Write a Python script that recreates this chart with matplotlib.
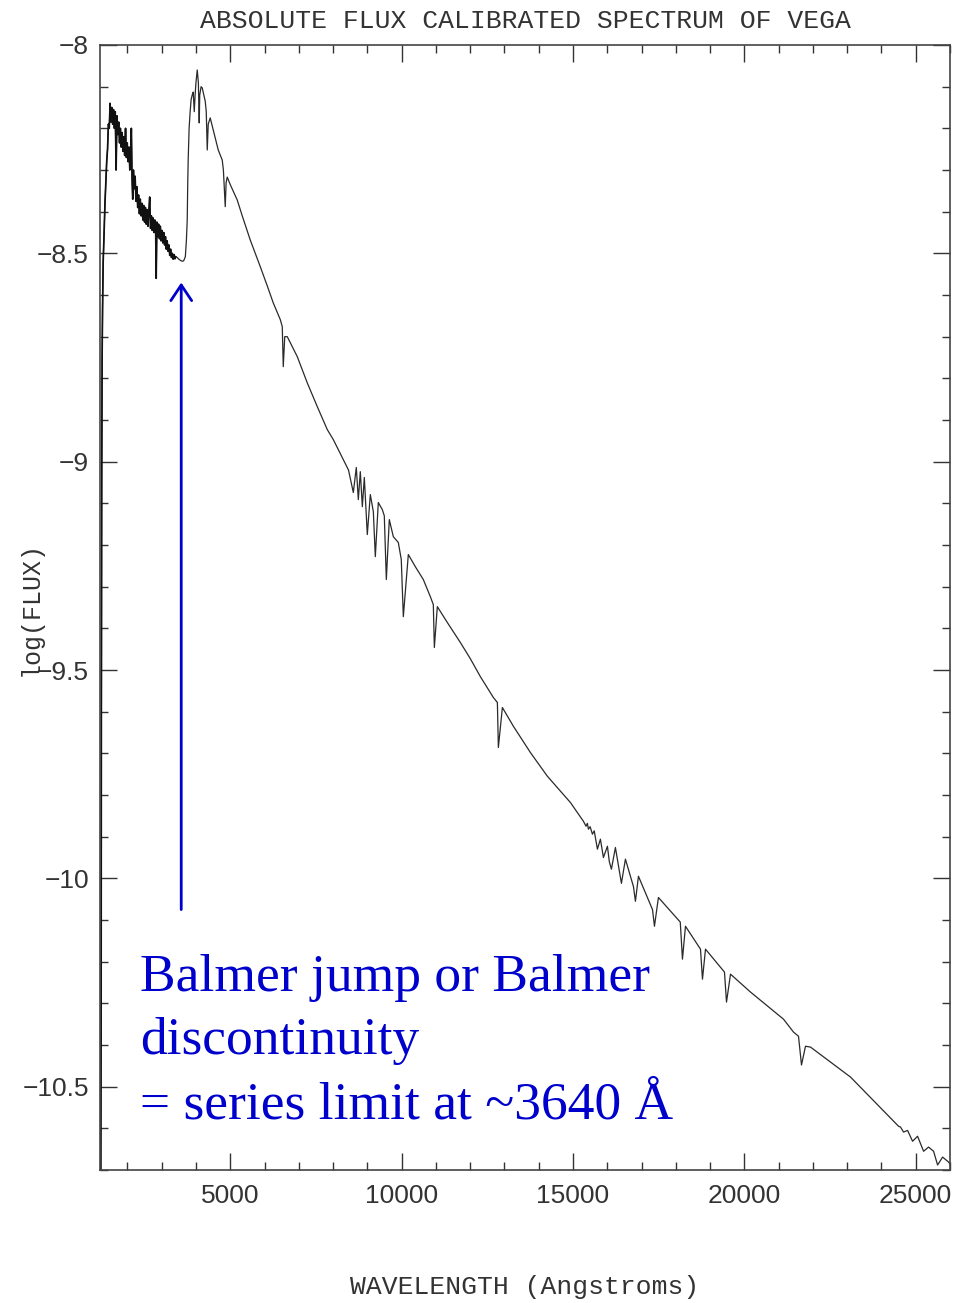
import matplotlib
matplotlib.use("Agg")
import matplotlib.pyplot as plt
import numpy as np

# far-UV edge and noisy UV part (wavelength in Angstrom, log flux)
uv_wl = [1222, 1234, 1240, 1250, 1262, 1275, 1293,
         1320, 1345, 1370, 1395, 1420, 1445, 1470, 1495, 1520, 1545, 1570, 1595, 1620,
         1645, 1670, 1695, 1720, 1745, 1770, 1795, 1820, 1845, 1870, 1895, 1920, 1945,
         1970, 1995, 2020, 2045, 2070, 2095, 2115, 2135, 2155, 2175, 2200, 2225, 2250,
         2275, 2300, 2325, 2350, 2375, 2400, 2425, 2450, 2475, 2500, 2525, 2550, 2575,
         2600, 2625, 2650, 2675, 2700, 2725, 2750, 2775, 2800, 2825, 2840, 2860, 2885,
         2910, 2935, 2960, 2985, 3010, 3035, 3060, 3085, 3110, 3135, 3160, 3185, 3210,
         3235, 3260, 3285, 3310, 3335, 3360, 3385, 3410]
uv_logf = [-10.75, -10.3, -9.6, -9.05, -8.75, -8.63, -8.52,
           -8.45, -8.38, -8.33, -8.28, -8.25, -8.19, -8.20, -8.14, -8.185, -8.15, -8.19,
           -8.155, -8.20, -8.16, -8.30, -8.17, -8.215, -8.185, -8.235, -8.20, -8.245,
           -8.21, -8.255, -8.22, -8.265, -8.20, -8.27, -8.235, -8.28, -8.245, -8.30,
           -8.255, -8.20, -8.32, -8.37, -8.30, -8.345, -8.315, -8.375, -8.34, -8.39,
           -8.36, -8.405, -8.37, -8.41, -8.38, -8.42, -8.385, -8.425, -8.39, -8.43,
           -8.395, -8.435, -8.40, -8.365, -8.44, -8.41, -8.445, -8.415, -8.45, -8.42,
           -8.455, -8.56, -8.425, -8.46, -8.43, -8.465, -8.435, -8.47, -8.445, -8.475,
           -8.45, -8.48, -8.46, -8.49, -8.47, -8.495, -8.48, -8.505, -8.49, -8.51, -8.50,
           -8.514, -8.503, -8.513, -8.508]

# Balmer jump, Balmer lines and optical / Paschen region
opt_wl = [3450, 3500, 3550, 3600, 3640, 3690, 3720, 3745, 3760, 3775, 3800, 3830, 3860,
          3890, 3920, 3950, 3975, 4000, 4037, 4070, 4095, 4110, 4150, 4183, 4230, 4270,
          4300, 4329, 4358, 4416, 4504, 4562, 4650, 4766, 4800, 4854, 4880, 4912, 5000,
          5204, 5350, 5584, 5876, 6080, 6255, 6460, 6518, 6547, 6590, 6664, 6956, 7248,
          7540, 7831, 8007, 8299, 8450, 8591, 8678, 8737, 8795, 8854, 8912, 8999, 9087,
          9175, 9233, 9320, 9437, 9495, 9554, 9641, 9758, 9904, 9990, 10050, 10196,
          10400, 10634, 10838, 10925, 10955, 11042, 11334, 11714, 12006, 12298, 12677,
          12794, 12823, 12940, 13261, 13757, 14253, 14925]
opt_logf = [-8.510, -8.514, -8.517, -8.519, -8.518, -8.508, -8.47, -8.42, -8.33, -8.27,
            -8.20, -8.16, -8.13, -8.12, -8.113, -8.16, -8.12, -8.09, -8.060, -8.09, -8.187,
            -8.12, -8.10, -8.103, -8.12, -8.135, -8.16, -8.252, -8.19, -8.175, -8.204,
            -8.223, -8.252, -8.276, -8.30, -8.388, -8.33, -8.317, -8.335, -8.372, -8.41,
            -8.468, -8.532, -8.578, -8.619, -8.659, -8.676, -8.772, -8.70, -8.700, -8.748,
            -8.811, -8.868, -8.923, -8.947, -8.995, -9.02, -9.074, -9.014, -9.091, -9.024,
            -9.108, -9.038, -9.175, -9.079, -9.12, -9.228, -9.098, -9.115, -9.13, -9.283,
            -9.139, -9.180, -9.194, -9.235, -9.372, -9.223, -9.252, -9.283, -9.324, -9.343,
            -9.446, -9.348, -9.386, -9.434, -9.473, -9.516, -9.566, -9.578, -9.686, -9.590,
            -9.635, -9.698, -9.755, -9.818]

# infrared: Brackett series and beyond
ir_wl = [15304, 15380, 15420, 15450, 15500, 15567, 15620, 15713, 15800, 15888, 16005,
         16060, 16121, 16238, 16355, 16413, 16530, 16765, 16822, 16910, 17320, 17377,
         17493, 18130, 18194, 18282, 18720, 18778, 18866, 19420, 19479, 19596, 20180,
         21142, 21434, 21580, 21667, 21784, 21930, 23098, 24353, 24499, 24557, 24645,
         24762, 24908, 25054, 25229, 25375, 25521, 25638, 25784, 25959, 26000]
ir_logf = [-9.863, -9.875, -9.868, -9.882, -9.876, -9.894, -9.886, -9.930, -9.906, -9.950,
           -9.923, -9.96, -9.978, -9.926, -9.983, -10.012, -9.954, -10.02, -10.055, -9.995,
           -10.075, -10.115, -10.046, -10.105, -10.194, -10.115, -10.17, -10.242, -10.170,
           -10.225, -10.297, -10.230, -10.273, -10.338, -10.369, -10.379, -10.448, -10.403,
           -10.405, -10.477, -10.583, -10.595, -10.597, -10.609, -10.605, -10.631, -10.619,
           -10.655, -10.645, -10.655, -10.688, -10.669, -10.681, -10.686]

wl = np.array(uv_wl + opt_wl + ir_wl)
logf = np.array(uv_logf + opt_logf + ir_logf)

x_major = [5000, 10000, 15000, 20000, 25000]
y_major = [-8, -8.5, -9, -9.5, -10, -10.5]
y_labels = ["\u22128", "\u22128.5", "\u22129", "\u22129.5", "\u221210", "\u221210.5"]

fig = plt.figure(figsize=(9.58, 13.03), dpi=100)
ax = fig.add_axes([100 / 958, 1 - 1170 / 1303, 850 / 958, 1125 / 1303])

ax.plot(wl, logf, color="#2a2a2a", lw=0.9)
ax.plot(uv_wl, uv_logf, color="#111111", lw=1.2)

ax.set_xlim(1200, 26000)
ax.set_ylim(-10.7, -8)
ax.set_xticks(x_major)
ax.set_xticks(np.arange(2000, 26001, 1000), minor=True)
ax.set_yticks(y_major)
ax.set_yticklabels(y_labels)
ax.set_yticks(np.arange(-10.7, -7.99, 0.1), minor=True)
ax.tick_params(which="both", direction="in", top=True, right=True, colors="#333333",
               labelsize=19, width=1)
ax.tick_params(which="major", length=12)
ax.tick_params(which="minor", length=6)
ax.tick_params(axis="x", which="major", pad=10)
ax.tick_params(axis="y", which="major", pad=8)
for lab in ax.get_xticklabels() + ax.get_yticklabels():
    lab.set_fontfamily("Liberation Sans")
for s in ax.spines.values():
    s.set_color("#444444")
    s.set_linewidth(1.2)

mono = "Liberation Mono"
ax.set_title("ABSOLUTE FLUX CALIBRATED SPECTRUM OF VEGA", family=mono, fontsize=19,
             color="#333333", pad=12)
fig.text(525 / 958, 1 - 1287 / 1303, "WAVELENGTH (Angstroms)", family=mono, fontsize=19,
         color="#333333", ha="center", va="center")
fig.text(31 / 958, 1 - 608 / 1303, "log(FLUX)", family=mono, fontsize=18,
         color="#333333", ha="center", va="center", rotation=90)

blue = "#0000cc"
ax.annotate("", xy=(3570, -8.57), xytext=(3570, -10.075),
            arrowprops=dict(arrowstyle="->,head_length=0.45,head_width=0.3",
                            color=blue, lw=2, mutation_scale=25, shrinkA=0, shrinkB=0))
serif = "Liberation Serif"
ax.text(2373, -10.271, "Balmer jump or Balmer", family=serif, fontsize=38.5, color=blue,
        va="baseline")
ax.text(2373, -10.422, "discontinuity", family=serif, fontsize=38.5, color=blue,
        va="baseline")
ax.text(2373, -10.576, "= series limit at ~3640 \u00c5", family=serif, fontsize=38.5,
        color=blue, va="baseline")

fig.savefig("out.png", dpi=100)
